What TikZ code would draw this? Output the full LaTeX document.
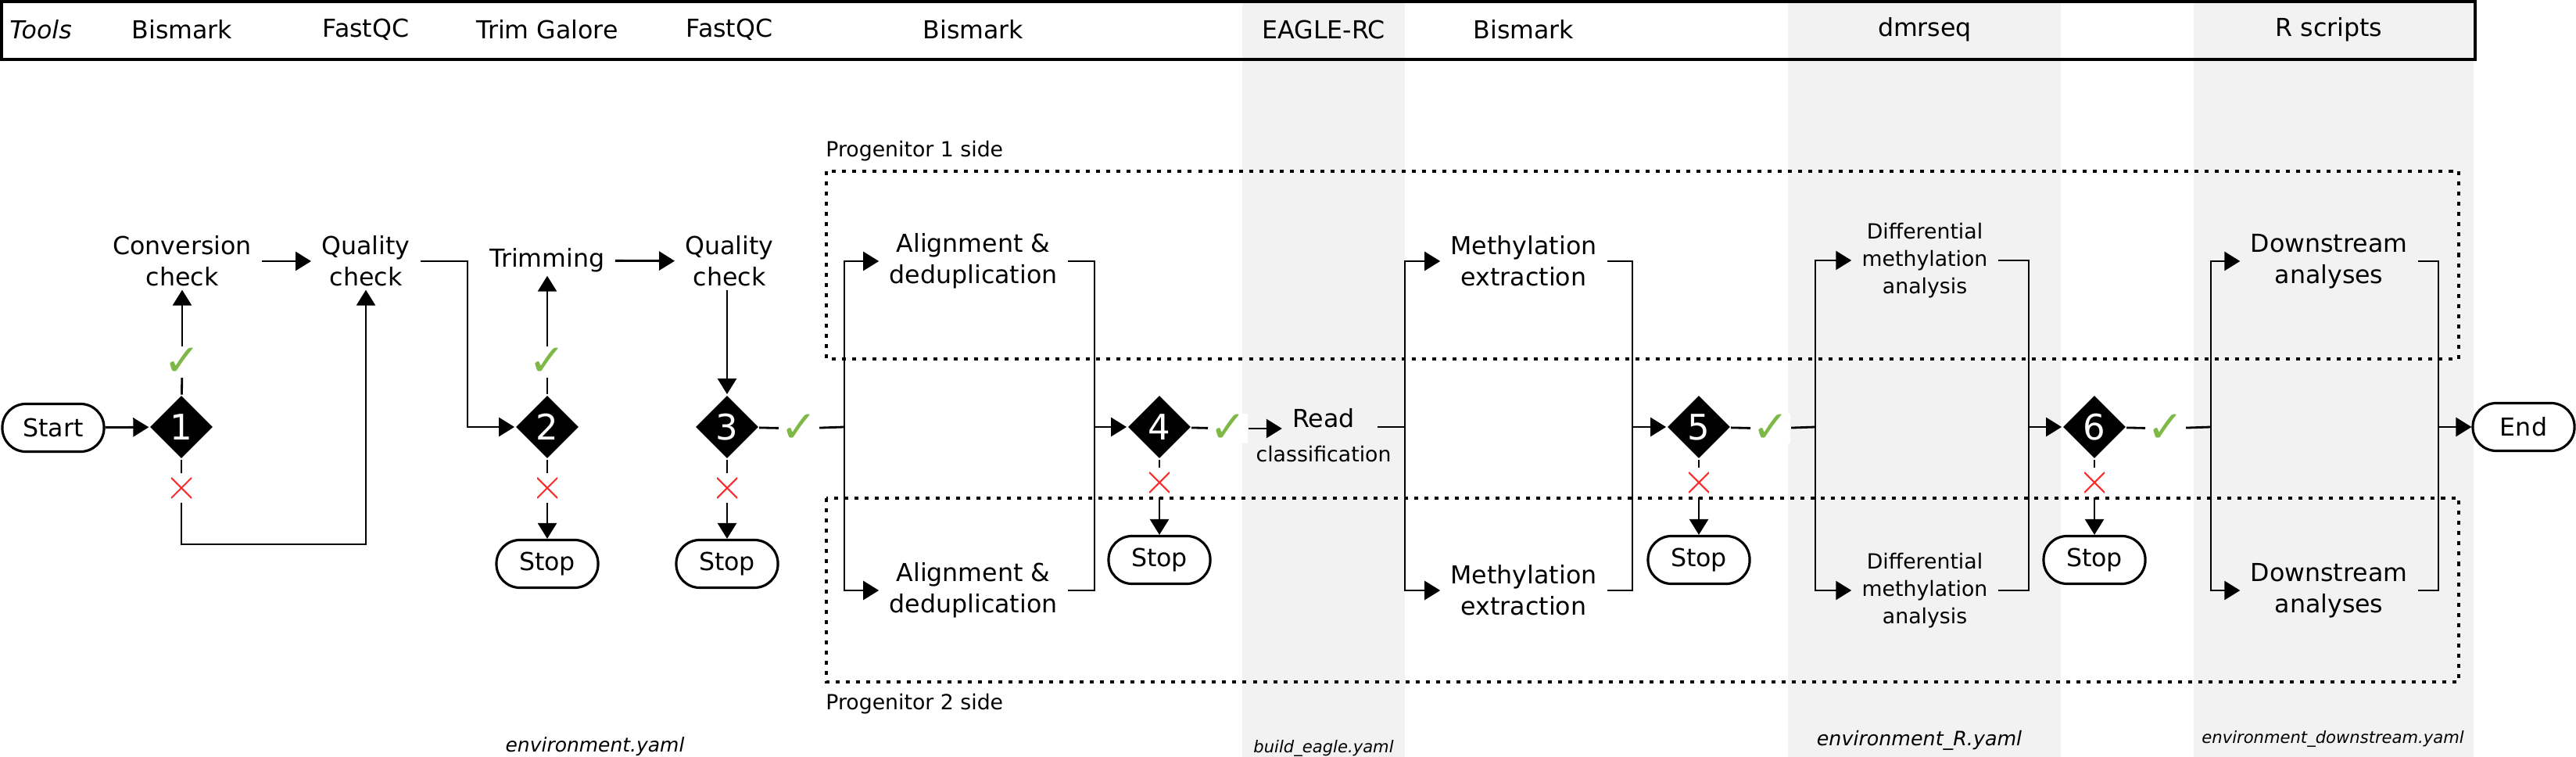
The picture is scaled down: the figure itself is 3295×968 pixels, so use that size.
\documentclass[tikz,border=0pt]{standalone}
\usepackage{fontspec}
\setmainfont{DejaVu Sans}
\usetikzlibrary{shapes.geometric,arrows.meta,positioning}
\definecolor{band}{RGB}{242,242,242}
\definecolor{okgreen}{RGB}{126,185,72}
\definecolor{nored}{RGB}{250,45,45}
\newcommand{\stepfont}{\fontsize{9}{11.4}\selectfont}
\newcommand{\notefont}{\fontsize{7.6}{10}\selectfont}
\tikzset{
  task/.style={align=center,inner xsep=0.12cm,inner ysep=0.03cm,font=\stepfont},
  subtask/.style={task,font=\notefont},
  term/.style={draw,line width=0.9pt,rounded corners=0.3cm,minimum width=1.3cm,minimum height=0.61cm,inner sep=0pt,fill=white,font=\stepfont},
  decision/.style={diamond,fill=black,text=white,inner sep=0pt,minimum width=0.81cm,minimum height=0.81cm,font=\fontsize{12.8}{13}\selectfont},
  okmark/.style={fill=white,inner sep=0.3pt,text=okgreen,font=\fontsize{16}{16}\selectfont},
  nomark/.style={fill=white,inner sep=0pt,minimum width=0.26cm,minimum height=0.35cm,
    path picture={\draw[nored,line width=0.6pt]
      ([yshift=-0.045cm]path picture bounding box.north west) -- ([yshift=0.045cm]path picture bounding box.south east)
      ([yshift=-0.045cm]path picture bounding box.north east) -- ([yshift=0.045cm]path picture bounding box.south west);}},
  arr/.style={-{Triangle[length=0.2cm,width=0.24cm]}},
  progbox/.style={line width=0.9pt,dash pattern=on 0.05cm off 0.08cm},
  tool/.style={font=\stepfont},
  yaml/.style={inner sep=0pt}
}

\begin{document}
\begin{tikzpicture}[x=0.01cm,y=-0.01cm,line width=0.8pt]
\useasboundingbox (0,0) rectangle (3295,968);
\fill[band] (1589,0) rectangle (1797,968);
\fill[band] (2287,0) rectangle (2636,968);
\fill[band] (2806,0) rectangle (3164,968);
\draw[line width=1.1pt] (2,2) rectangle (3166,76);
\draw[progbox] (1057,219) rectangle (3145,459);
\draw[progbox] (1057,637) rectangle (3145,872);
\node[anchor=west,inner sep=0pt,font=\notefont] (side1) at (1055,193) {Progenitor 1 side};
\node[anchor=west,inner sep=0pt,font=\notefont] (side2) at (1055,900) {Progenitor 2 side};

\node[term] (start) at (68,547) {Start};
\node[decision] (d1) at (232,546) {1};
\node[decision] (d2) at (700,546) {2};
\node[decision] (d3) at (930,546) {3};
\node[decision] (d4) at (1483,546) {4};
\node[decision] (d5) at (2173,546) {5};
\node[decision] (d6) at (2679,546) {6};
\node[term] (endn) at (3228,546) {End};

\node[task] (conv) at (233,334) {Conversion\\check};
\node[task] (qc1) at (468,334) {Quality\\check};
\node[task] (trim) at (700,333) {Trimming};
\node[task] (qc2) at (933,334) {Quality\\check};
\node[task] (align1) at (1245,334) {Alignment \&\\deduplication};
\node[task] (align2) at (1245,755) {Alignment \&\\deduplication};
\node[task] (rc) at (1693,535) {Read};
\node[subtask,below=0.14cm of rc] (rcl) {classification};
\node[task] (meth1) at (1949,334) {Methylation\\extraction};
\node[task] (meth2) at (1949,755) {Methylation\\extraction};
\node[subtask] (dma1) at (2462,333) {Differential\\methylation\\analysis};
\node[subtask] (dma2) at (2462,755) {Differential\\methylation\\analysis};
\node[task] (down1) at (2979,334) {Downstream\\analyses};
\node[task] (down2) at (2979,755) {Downstream\\analyses};

\node[okmark] (ok1) at (233,463) {✓};
\node[okmark] (ok2) at (700,463) {✓};
\node[okmark] (ok3) at (1022,548) {✓};
\node[okmark] (ok4) at (1571,548) {✓};
\node[okmark] (ok5) at (2265,548) {✓};
\node[okmark] (ok6) at (2770,548) {✓};
\node[nomark] (no1) at (232,624) {};
\node[nomark] (no2) at (700,624) {};
\node[nomark] (no3) at (930,624) {};
\node[nomark] (no4) at (1483,617) {};
\node[nomark] (no5) at (2173,617) {};
\node[nomark] (no6) at (2679,617) {};
\node[term] (stop2) at (700,721) {Stop};
\node[term] (stop3) at (930,721) {Stop};
\node[term] (stop4) at (1483,716) {Stop};
\node[term] (stop5) at (2173,716) {Stop};
\node[term] (stop6) at (2679,716) {Stop};

\coordinate (hdr) at (0,38);
\node[tool,font=\stepfont\itshape] (t0) at (52,38) {Tools};
\node[tool] (t1) at (conv |- hdr) {Bismark};
\node[tool] (t2) at (qc1 |- hdr) {FastQC};
\node[tool] (t3) at (trim |- hdr) {Trim Galore};
\node[tool] (t4) at (qc2 |- hdr) {FastQC};
\node[tool] (t5) at (align1 |- hdr) {Bismark};
\node[tool] (t6) at (rc |- hdr) {EAGLE-RC};
\node[tool] (t7) at (meth1 |- hdr) {Bismark};
\node[tool] (t8) at (dma1 |- hdr) {dmrseq};
\node[tool] (t9) at (down1 |- hdr) {R scripts};

\node[yaml,font=\fontsize{7.1}{8}\selectfont\itshape] (y1) at (761,955) {environment.yaml};
\node[yaml,font=\fontsize{6}{7}\selectfont\itshape] (y2) at (1693,957) {build\_eagle.yaml};
\node[yaml,font=\fontsize{7.2}{8}\selectfont\itshape] (y3) at (2455,947) {environment\_R.yaml};
\node[yaml,font=\fontsize{6}{7}\selectfont\itshape] (y4) at (2984,945) {environment\_downstream.yaml};

\coordinate (loop1) at (232,696);
\coordinate (s1) at (1080,546);
\coordinate (m1) at (1400,546);
\coordinate (rcout) at (1762,546);
\coordinate (s3) at (1797,546);
\coordinate (m3) at (2088,546);
\coordinate (s5) at (2322,546);
\coordinate (m5) at (2595,546);
\coordinate (s6) at (2828,546);
\coordinate (m6) at (3119,546);

\draw[arr] (start) -- (d1);
\draw (d1) -- (ok1);
\draw[arr] (ok1) -- (ok1 |- conv.south);
\draw[arr] (conv) -- (qc1);
\draw (d1) -- (no1);
\draw[arr] (no1) -- (loop1) -| (qc1.south);
\draw[arr] (qc1.east) -- ++(60,0) |- (d2);
\draw (d2) -- (ok2);
\draw[arr] (ok2) -- (ok2 |- trim.south);
\draw[arr] (trim) -- (qc2);
\draw (d2) -- (no2);
\draw[arr] (no2) -- (stop2);
\draw[arr] (qc2.south -| d3) -- (d3);
\draw (d3) -- (no3);
\draw[arr] (no3) -- (stop3);
\draw (d3) -- (ok3) -- (s1);
\draw[arr] (s1) |- (align1.west);
\draw[arr] (s1) |- (align2.west);
\draw (align1.east) -| (m1);
\draw (align2.east) -| (m1);
\draw[arr] (m1) -- (d4);
\draw (d4) -- (no4);
\draw[arr] (no4) -- (stop4);
\draw (d4) -- (ok4);
\draw[arr] (ok4) -- (ok4 -| rc.west);
\draw (rcout) -- (s3);
\draw[arr] (s3) |- (meth1.west);
\draw[arr] (s3) |- (meth2.west);
\draw (meth1.east) -| (m3);
\draw (meth2.east) -| (m3);
\draw[arr] (m3) -- (d5);
\draw (d5) -- (no5);
\draw[arr] (no5) -- (stop5);
\draw (d5) -- (ok5) -- (s5);
\draw[arr] (s5) |- (dma1.west);
\draw[arr] (s5) |- (dma2.west);
\draw (dma1.east) -| (m5);
\draw (dma2.east) -| (m5);
\draw[arr] (m5) -- (d6);
\draw (d6) -- (no6);
\draw[arr] (no6) -- (stop6);
\draw (d6) -- (ok6) -- (s6);
\draw[arr] (s6) |- (down1.west);
\draw[arr] (s6) |- (down2.west);
\draw (down1.east) -| (m6);
\draw (down2.east) -| (m6);
\draw[arr] (m6) -- (endn);
\end{tikzpicture}
\end{document}
